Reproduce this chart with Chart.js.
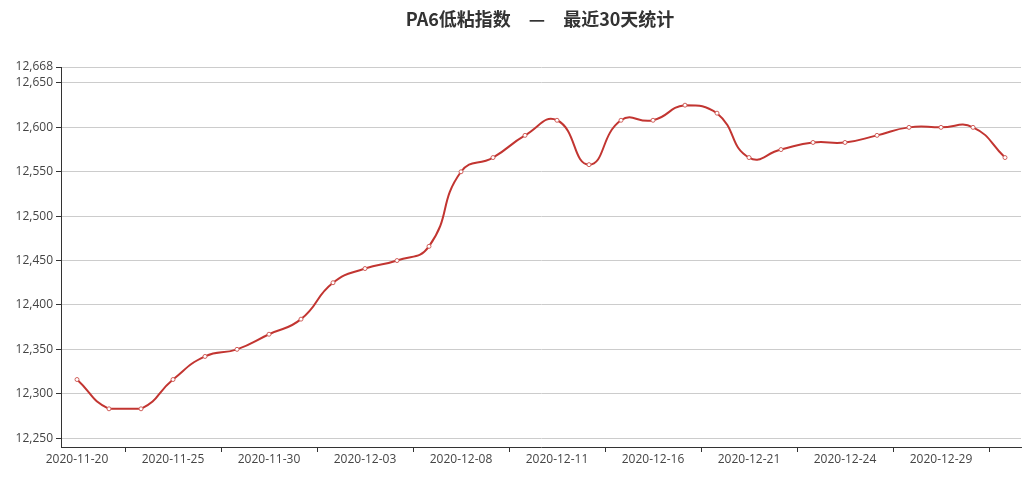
<!DOCTYPE html>
<html>
<head>
<meta charset="utf-8">
<script src="https://cdn.jsdelivr.net/npm/chart.js@4/dist/chart.umd.min.js"></script>
<style>
  html, body { margin: 0; padding: 0; background: #fff; }
  #wrap { width: 1036px; height: 494px; }
</style>
</head>
<body>
<div id="wrap"><canvas id="indexChart" width="1036" height="494"></canvas></div>
<script>
// dates shown on the category axis (trading days)
const dates = [
  "2020-11-20", "2020-11-23", "2020-11-24", "2020-11-25", "2020-11-26",
  "2020-11-27", "2020-11-30", "2020-12-01", "2020-12-02", "2020-12-03",
  "2020-12-04", "2020-12-07", "2020-12-08", "2020-12-09", "2020-12-10",
  "2020-12-11", "2020-12-14", "2020-12-15", "2020-12-16", "2020-12-17",
  "2020-12-18", "2020-12-21", "2020-12-22", "2020-12-23", "2020-12-24",
  "2020-12-25", "2020-12-28", "2020-12-29", "2020-12-30", "2020-12-31"
];
// PA6 low viscosity index values
const indexValues = [
  12316, 12283, 12283, 12316, 12342, 12350, 12367, 12384, 12425, 12441,
  12450, 12466, 12550, 12566, 12591, 12608, 12558, 12608, 12608, 12625,
  12616, 12566, 12575, 12583, 12583, 12591, 12600, 12600, 12600, 12566
];
const yTicks = [12250, 12300, 12350, 12400, 12450, 12500, 12550, 12600, 12650, 12668];
const yMin = 12240;
const yMax = 12668;
const LABEL_EVERY = 3;
const TITLE = "PA6低粘指数　—　最近30天统计";

const RED = "#c23531";
const TEXT = "#444";
const FONT = "'Open Sans', 'Noto Sans', sans-serif";

// title, centred on the page
const titlePlugin = {
  id: "pageTitle",
  afterDraw(chart) {
    const ctx = chart.ctx;
    ctx.save();
    ctx.fillStyle = "#333";
    ctx.font = "bold 18px 'Noto Sans CJK SC', 'Noto Sans', sans-serif";
    ctx.textAlign = "center";
    ctx.textBaseline = "middle";
    ctx.fillText(TITLE, chart.width / 2 + 22, 19);
    ctx.restore();
  }
};

// keep the smoothed curve inside the box of the data points
const clampCurve = {
  id: "clampCurve",
  beforeDatasetsDraw(chart) {
    const meta = chart.getDatasetMeta(0);
    const pts = meta.data;
    const area = {
      left: Math.min(...pts.map((p) => p.x)),
      right: Math.max(...pts.map((p) => p.x)),
      top: Math.min(...pts.map((p) => p.y)),
      bottom: Math.max(...pts.map((p) => p.y)),
    };
    meta.dataset._pointsUpdated = false;
    meta.dataset.updateControlPoints(area, "x");
  }
};

// small tick marks on the x axis, halfway between categories
const xTickMarks = {
  id: "xTickMarks",
  afterDraw(chart) {
    const x = chart.scales.x;
    const ctx = chart.ctx;
    ctx.save();
    ctx.strokeStyle = "#333";
    ctx.lineWidth = 1;
    for (let i = 1; i + 1 < dates.length; i += LABEL_EVERY) {
      const px = Math.round((x.getPixelForValue(i) + x.getPixelForValue(i + 1)) / 2) + 0.5;
      ctx.beginPath();
      ctx.moveTo(px, x.top);
      ctx.lineTo(px, x.top + 5);
      ctx.stroke();
    }
    ctx.restore();
  }
};

new Chart(document.getElementById("indexChart"), {
  type: "line",
  data: {
    labels: dates,
    datasets: [
      {
        label: "PA6低粘指数",
        data: indexValues,
        borderColor: RED,
        borderWidth: 2,
        tension: 0.5,
        fill: false,
        pointRadius: 2,
        pointBorderWidth: 1,
        pointBackgroundColor: "#fff",
        pointBorderColor: "#d0605c",
      },
    ],
  },
  options: {
    responsive: false,
    animation: false,
    layout: { padding: { left: 0, right: 15, top: 67, bottom: 0 } },
    plugins: {
      legend: { display: false },
      tooltip: { enabled: false },
      title: { display: false },
    },
    scales: {
      x: {
        type: "category",
        offset: true,
        grid: { display: false, drawTicks: false },
        border: { display: true, color: "#333", width: 1 },
        ticks: {
          autoSkip: false,
          maxRotation: 0,
          color: TEXT,
          font: { family: FONT, size: 12 },
          padding: 5,
          callback: function (value, index) {
            return index % LABEL_EVERY === 0 ? dates[index] : "";
          },
        },
        afterFit: function (scale) {
          scale.height = 47;
        },
      },
      y: {
        min: yMin,
        max: yMax,
        grid: {
          color: "#ccc",
          tickColor: "#333",
          tickLength: 5,
          drawTicks: true,
        },
        border: { display: true, color: "#333", width: 1 },
        ticks: {
          color: TEXT,
          font: { family: FONT, size: 12 },
          padding: 3,
          callback: function (value) {
            return value.toLocaleString("en-US");
          },
        },
        afterBuildTicks: function (scale) {
          scale.ticks = yTicks.map((v) => ({ value: v }));
        },
        afterFit: function (scale) {
          scale.width = 61;
        },
      },
    },
  },
  plugins: [clampCurve, xTickMarks, titlePlugin],
});
</script>
</body>
</html>
